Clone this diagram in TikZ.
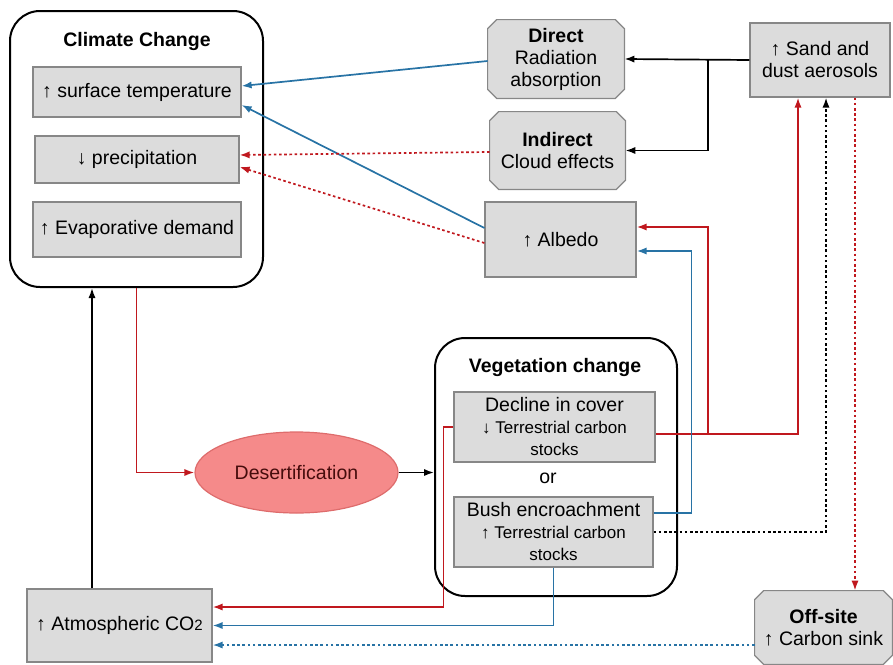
\documentclass[tikz,border=0pt]{standalone}
\usepackage{fontspec}
\setmainfont{Liberation Sans}
\usetikzlibrary{arrows.meta,shapes.geometric,backgrounds}
\definecolor{linkblue}{RGB}{40,115,165}
\definecolor{linkred}{RGB}{192,24,30}
\definecolor{boxgray}{RGB}{220,220,220}
\definecolor{boxline}{RGB}{135,135,135}
\definecolor{desertfill}{RGB}{245,138,138}
\definecolor{desertline}{RGB}{222,108,108}
\definecolor{deserttext}{RGB}{70,12,12}
\newcommand{\smalltxt}{\fontsize{8.5}{10.25}\selectfont}

\begin{document}
\begin{tikzpicture}[x=0.5pt,y=-0.5pt,
    >={Latex[length=5pt,width=3.6pt]},
    font=\fontsize{9.75}{11}\selectfont,
    title/.style={font=\fontsize{9.75}{11}\selectfont\bfseries},
    item/.style={draw=boxline,fill=boxgray,line width=0.6pt,align=center,inner sep=1pt},
    effect/.style={align=center,inner sep=1pt},
    group/.style={draw,line width=1pt,rounded corners=15pt},
    link/.style={line width=0.85pt},
    blueline/.style={link,draw=linkblue},
    redline/.style={link,draw=linkred},
    dots/.style={dash pattern=on 1.3pt off 1.3pt}]

    \useasboundingbox (0,0) rectangle (893,664);

    \node[group,minimum width=126.5pt,minimum height=138pt] (climate) at (136.5,149) {};
    \node[title] (climatetitle) at (137,41) {Climate Change};
    \node[item,minimum width=104pt,minimum height=25pt] (sfc) at (137,92) {↑ surface temperature};
    \node[item,minimum width=102pt,minimum height=23.5pt] (precip) at (137,159.5) {↓ precipitation};
    \node[item,minimum width=104pt,minimum height=27.5pt] (evap) at (137,229.5) {↑ Evaporative demand};

    \node[effect,minimum width=68pt,minimum height=39pt] (direct) at (556,59) {\textbf{Direct}\\Radiation\\absorption};
    \node[effect,minimum width=67.5pt,minimum height=38.5pt] (indirect) at (557.5,150.5) {\textbf{Indirect}\\Cloud effects};
    \node[item,minimum width=75.5pt,minimum height=37.5pt] (albedo) at (560.5,239.5) {↑ Albedo};
    \node[item,minimum width=70pt,minimum height=37pt] (sand) at (820,60) {↑ Sand and\\dust aerosols};

    \node[group,minimum width=121pt,minimum height=129pt] (veg) at (556,467) {};
    \node[title] (vegtitle) at (555,367) {Vegetation change};
    \node[item,minimum width=100.5pt,minimum height=35pt] (decline) at (554.5,427) {Decline in cover\\{\smalltxt ↓ Terrestrial carbon}\\{\smalltxt stocks}};
    \node (or) at (548,478) {or};
    \node[item,minimum width=99.5pt,minimum height=35pt] (bush) at (553.5,532) {Bush encroachment\\{\smalltxt ↑ Terrestrial carbon}\\{\smalltxt stocks}};

    \node[ellipse,draw=desertline,fill=desertfill,line width=0.6pt,text=deserttext,minimum width=101.5pt,minimum height=40.5pt] (desert) at (296.5,472.5) {Desertification};
    \node[item,minimum width=92.5pt,minimum height=36.5pt] (co2) at (119.5,625.5) {↑ Atmospheric CO{\fontsize{7.5}{9}\selectfont 2}};
    \node[effect,minimum width=68.5pt,minimum height=36.5pt] (offsite) at (823.5,627.5) {\textbf{Off-site}\\↑ Carbon sink};

    \begin{scope}[on background layer]
        \foreach \n in {direct,indirect,offsite}
            \draw[draw=boxline,fill=boxgray,line width=0.6pt]
                ([xshift=4.5pt]\n.north west) -- ([xshift=-4.5pt]\n.north east) -- ([yshift=-4.5pt]\n.north east)
                -- ([yshift=4.5pt]\n.south east) -- ([xshift=-4.5pt]\n.south east) -- ([xshift=4.5pt]\n.south west)
                -- ([yshift=4.5pt]\n.south west) -- ([yshift=-4.5pt]\n.north west) -- cycle;
    \end{scope}

    \coordinate (split) at (708,60);
    \draw[link,->] (sand.west) -- (direct.east);
    \draw[link,->] (split) |- (indirect.east);

    \draw[blueline,->] ([yshift=-1pt]direct.west) -- ([yshift=3pt]sfc.east);
    \draw[blueline,->] ([yshift=5.75pt]albedo.west) -- ([yshift=-6.5pt]sfc.east);
    \draw[redline,dots,->] ([yshift=-0.75pt]indirect.west) -- ([yshift=2.25pt]precip.east);
    \draw[redline,dots,->] ([yshift=-1.75pt]albedo.west) -- ([yshift=-3.75pt]precip.east);

    \coordinate (rsplit) at (708,434);
    \draw[redline,->] ([yshift=-3.5pt]decline.east) -| ([xshift=-11pt]sand.south);
    \draw[redline,->] (rsplit) |- ([yshift=6.25pt]albedo.east);
    \draw[blueline,->] ([yshift=9.5pt]bush.east) -- ++(38,0) |- ([yshift=-5.75pt]albedo.east);
    \draw[link,dots,->] (bush.east) -| ([xshift=3pt]sand.south);
    \draw[redline,dots,->] ([xshift=17.5pt]sand.south) -- ([xshift=17.5pt]sand.south |- offsite.north);

    \draw[blueline,->] (bush.south) |- (co2.east);
    \draw[redline,->] (decline.west) -- ++(-10,0) |- ([yshift=9.25pt]co2.east);
    \draw[blueline,dots,->] ([yshift=-8.75pt]offsite.west) -- ([yshift=-8.75pt]offsite.west -| co2.east);

    \draw[redline,->] (climate.south) |- (desert.west);
    \draw[link,->] (desert.east) -- (desert.east -| veg.west);
    \draw[link,->] ([xshift=-13.75pt]co2.north) -- ([xshift=-13.75pt]co2.north |- climate.south);
\end{tikzpicture}
\end{document}
